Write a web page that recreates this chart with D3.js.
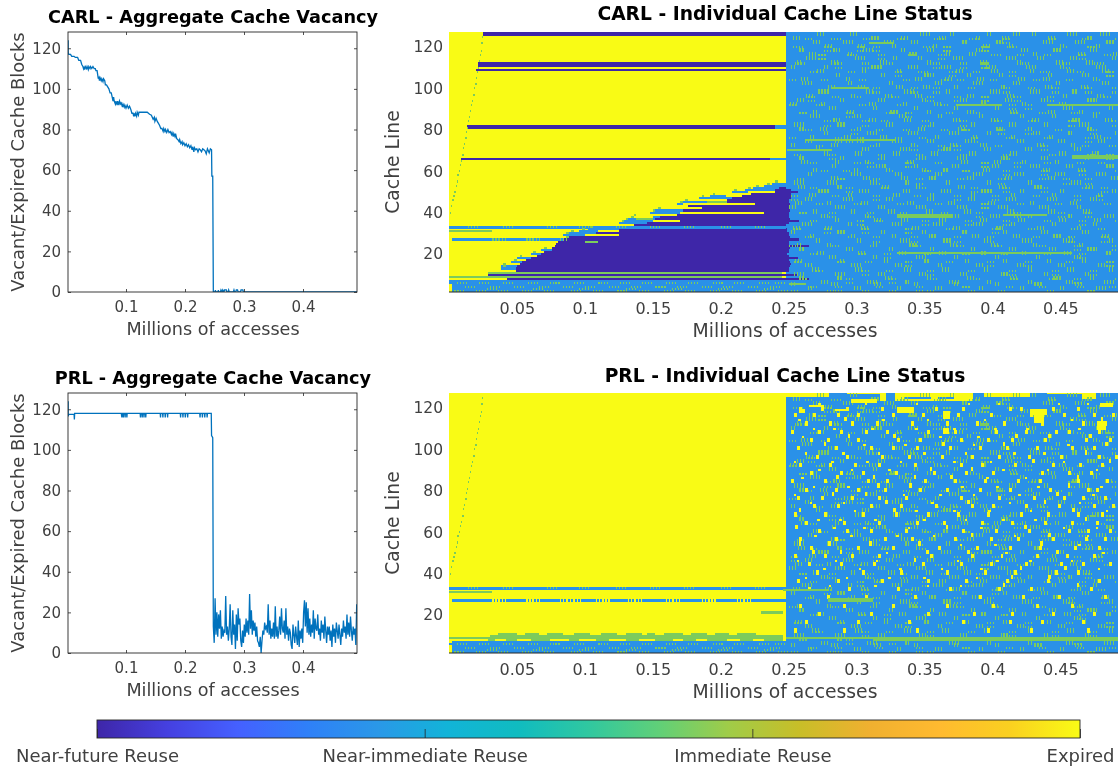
<!DOCTYPE html>
<html><head><meta charset="utf-8">
<script src="https://cdn.jsdelivr.net/npm/d3@7/dist/d3.min.js"></script>
<style>
html,body{margin:0;padding:0;background:#fff;overflow:hidden}
svg{display:block;filter:blur(0.4px)}
text{font-family:"DejaVu Sans",sans-serif}
</style></head><body>
<script>
// ---------- text ----------
const cbLabels=["Near-future Reuse","Near-immediate Reuse","Immediate Reuse","Expired"];
const lineXTicks=[100,200,300,400], lineXLabels=["0.1","0.2","0.3","0.4"];
const lineYTicks=[0,20,40,60,80,100,120];
const heatXTicks=[50,100,150,200,250,300,350,400,450];
const heatXLabels=["0.05","0.1","0.15","0.2","0.25","0.3","0.35","0.4","0.45"];
const heatYTicks=[20,40,60,80,100,120];
// ---------- colours ----------
const stateColor={dark:"#3E26A8",blue:"#2A91E8",green:"#7CCB5C",yellow:"#F9FB15"};
const cmapStops=["#3E26A8","#4540E0","#4560FF","#2F80F8","#2A98E8","#12B4D8","#10BCC0","#30C8A0","#60D078","#A0CC48","#C8BE28","#F0B030","#FFBA30","#FAD020","#F9FB15"];
// ---------- aggregate curves: [thousand accesses, blocks] ----------
const carlCurve=[[2,124],[2,118],[3,117],[6,117],[8,116],[12,116],[14,115.5],[18,115.5],[20,114],[23,114],[25,112],[27,111],[28,110],[29,111],[30,109.5],[31,111],[33,110],[34,111],[36,109.5],[37,111],[39,110],[40,111],[42,110],[44,111],[46,110],[48,110],[49,109],[51,109],[52,107],[53,105],[54,106],[55,104],[56,105.5],[58,104],[59,105],[61,103.5],[62,105],[64,104],[65,102],[67,102],[69,101],[71,100],[73,98],[75,98],[77,95.5],[78,94],[79,96],[80,94],[82,92.5],[83,94],[85,92],[86,94],[88,92],[89,94],[91,92.5],[92,93],[94,91],[95,92.5],[97,91],[98,92],[100,90.5],[102,92],[104,90.5],[106,91.5],[108,90],[110,88],[112,88],[113,86.5],[114,88],[115,86.5],[116,88],[118,86.5],[119,88.5],[121,87],[122,88.5],[126,88.5],[130,88.5],[136,88.5],[140,87.5],[143,87],[146,85],[148,86],[149,84],[151,85.5],[153,84],[155,83],[157,82],[159,80.5],[161,80.5],[163,79],[164,80.5],[166,79],[167,80],[169,78.5],[171,80],[173,78.5],[175,79],[177,77.5],[178,78.5],[180,76.5],[181,78],[183,76.5],[184,78],[186,75.5],[188,75],[190,74],[191,75],[193,73],[195,74],[196,72.5],[198,73.5],[200,72],[202,73],[204,71.5],[206,72.5],[208,71],[210,72],[212,70],[213,71.5],[215,69],[216,71],[218,70],[220,70.5],[222,69],[224,70.5],[226,70],[228,69],[230,70.5],[232,70],[234,69.5],[236,68],[238,70.5],[241,68.5],[243,70.5],[245,70],[245.5,57],[247,57],[248,0],[251,0],[251.5,1],[252,0],[256,0],[256.5,1],[257,0],[260,0],[261,1],[263,0],[264,1],[266,0],[267,1],[270,1],[271,0],[273,0],[274,1],[275,0],[282,0],[283,1],[284,0],[286,0],[287,1],[289,1],[290,0],[294,0],[295,1],[298,1],[299,0],[491.5,0]];
const prlCurve=[[2,124],[2,116.5],[3,117.5],[12,117.5],[12.5,115],[13,118],[92,118],[93,116],[93.5,118],[95,118],[95.5,116],[96,118],[98,118],[98.5,116],[99,118],[101,118],[101.5,116],[102,118],[124,118],[124.5,116],[125,118],[127,118],[127.5,116],[128,118],[130,118],[130.5,116],[131,118],[133,118],[133.5,116],[134,118],[158,118],[158.5,116],[159,118],[162,118],[162.5,116],[163,118],[166,118],[166.5,116],[167,118],[170,118],[170.5,116],[171,118],[192,118],[192.5,116],[193,118],[196,118],[196.5,116],[197,118],[200,118],[200.5,116],[201,118],[204,118],[204.5,116],[205,118],[225,118],[225.5,116],[226,118],[229,118],[229.5,116],[230,118],[233,118],[233.5,116],[234,118],[237,118],[237.5,116],[238,118],[244.5,118],[245,107],[247,106]];
const prlNoiseStart=248, prlNoiseStep=1.5;
const prlNoise=[13,5,27,9,20,8,19,12,21,7,
13,8,11,10,28,9,13,6,12,24,
8,4,21,9,14,2,19,6,22,14,
17,6,3,11,5,14,8,17,10,16,
9,29,12,21,9,16,11,15,8,13,
6,5,3,8,0,6,11,9,15,12,
13,10,24,9,16,7,12,8,15,7,
23,8,13,7,11,18,9,22,12,10,
16,7,22,9,13,6,12,10,4,2,
14,9,5,13,8,4,16,3,11,7,
12,5,20,26,13,25,10,22,9,17,
8,14,10,21,7,17,12,11,19,9,
12,6,16,10,14,7,18,11,5,13,
9,13,6,11,3,14,8,12,5,15,
11,7,14,9,4,12,8,16,10,13,
7,19,9,15,8,18,11,6,13,9,
12,4,24];
// ---------- heat-map content, [cache line, from, to, state] in thousand accesses ----------
const diagDots=[[0.8,40],[1.5,43],[2.5,46],[3.2,48],[4,50],[4.8,53],[5.6,55],[6.2,58],[7,60],[8,63],[8.8,65],[9.8,68],[10.5,71],[11.2,73],[12,76],[12.6,79],[13.4,81],[14,84],[14.8,86],[15.6,89],[16.4,92],[17,94],[18,97],[18.6,100],[19.4,102],[20,105],[20.8,108],[21.4,110],[22,113],[22.6,116],[23.2,118],[23.8,122],[24.4,125]];
const carlBands=[
[127,25,248,"dark"],[126,25,248,"dark"],[112,21,248,"dark"],[111,21,248,"dark"],[108.7,20,248,"dark"],
[82,13,240,"dark"],[81,13,240,"dark"],[82,240,248,"blue"],[81,240,248,"blue"],[66,9,236,"dark"],[66,236,248,"blue"],
[31,0,32,"green"],[27,2,84,"blue"],
[11,29,245,"green"],[10,29,256,"dark"],[9,0,245,"green"],[8,43,265,"dark"],[8,0,20,"yellow"],[7,0,248,"blue"],[6,0,248,"blue"],[5,2,248,"blue"],[4,2,248,"blue"],[3,2,248,"blue"],[2,2,248,"blue"],[1,2,248,"blue"]];
// wedge rows [cache line, first dark, last dark]
const carlWedge=[[12,49,250],[13,49,250],[14,50,251],[15,52,252],[16,54,251],[17,57,250],[18,60,257],[19,65,250],[20,68,249],[21,70,250],[22,76,250],[23,76,251],[24,78,265],[25,79,250],[26,80,250],[27,84,258],[28,88,251],[29,100,250],[30,108,250],[31,118,249],[32,125,249],[33,125,248],[34,136,248],[35,146,250],[36,150,258],[37,152,251],[38,155,250],[39,168,250],[40,170,250],[41,172,251],[42,174,251],[43,176,250],[44,188,251],[45,195,250],[46,205,250],[47,208,252],[48,212,252],[49,222,252],[50,233,257],[51,240,252],[52,243,248]];
const carlFringe=[[13,38,50],[14,38,50],[16,46,54],[18,50,60],[20,60,68],[22,68,76],[27,84,84],[29,84,100],[30,88,108],[31,96,118],[32,102,125],[35,125,146],[36,128,150],[37,132,152],[38,134,155],[40,148,170],[41,152,172],[44,168,188],[45,172,195],[47,184,208],[48,192,212],[50,208,233],[51,218,240],[52,224,243],[53,232,248],[54,238,248]];
const carlBlueBand=[32.8,0,248];
const carlStripes=[[40,170,232,"yellow"],[44,172,225,"yellow"],[42,174,186,"yellow"],[36,150,170,"yellow"],[37,138,150,"green"],[29,100,125,"yellow"],[31,110,125,"yellow"],[26,100,110,"green"],[48,204,216,"yellow"],[50,220,240,"yellow"],[45,190,205,"green"],[38,130,150,"yellow"]];
const carlGreenLines=[[122,309,327,1],[100,282,309,1],[92,373,407,1],[92,440,493,1],[75,262,328,1],[70,249,282,1],[66.5,459,493,2],[38,330,371,2],[39,408,440,1],[20.5,330,459,1],[5.5,250,263,1]];
const prlBands=[[32.8,0,248,"blue",1.4],[31,0,32,"green",1],[27,2,248,"blue",1.3],[21,230,246,"green",1.3],[11,30,246,"green",1],[10,30,246,"green",1],[9,0,246,"green",1],[8,0,246,"green",1],[7,2,248,"blue",1],[6,0,248,"blue",1],[5,2,248,"blue",1],[4,2,248,"blue",1],[3,2,248,"blue",1],[2,2,248,"blue",1],[1,2,248,"blue",1]];
const prlBandNotches=[[11,30,36],[11,50,56],[11,66,72],[11,84,92],[11,104,112],[11,124,130],[11,142,146],[11,152,158],[11,172,178],[11,190,196],[11,206,212],[11,226,246]];
const prlLeftYellow=[[8,0,29],[8,34,42],[8,50,60],[8,74,88],[8,96,108],[8,118,130],[8,140,152],[8,165,172],[8,182,190],[8,205,214],[8,224,232]];
const prlGreenLines=[[9,248,312,1],[8,312,493,2],[27,279,312,1.5],[32,246,279,1]];
const prlTopCaps=[[244,280,125],[293,317,126],[317,322,123],[328,386,123],[394,428,125],[440,466,126],[466,476,124],[483,490,127]];
const prlTopBlue=[[125,335,355],[125,360,372],[126,300,308],[126,288,293],[125,400,408],[124,248,262],[124,268,276]];
const prlTopBlobs=[[265,276,121,1],[330,342,118,3],[428,440,117,3],[431,438,113,4],[364,369,115,4],[477,484,110,4],[479,489,121,2],[296,315,123,2],[364,368,108,3],[258,262,118,2],[284,292,119,1]];
// column groups of vertical bars: first item is the cache line
const specBars=[
[126,271,295,347,369,396,415,429,455,479],[122,268,290,320,340,378,403,437,461,484],[118,258,283,305,333,352,388,421,445,472],
[114,263,299,327,345,371,410,433,457,488],[110,252,276,311,338,362,395,425,450,476],[106,285,318,350,381,405,441,466],
[102,260,294,324,358,386,415,447,481],[98,272,307,335,366,398,428,459],[94,256,288,316,348,376,409,436,470],
[90,280,312,342,372,402,452,486],[86,266,298,331,360,390,420,444,474],[82,254,286,322,354,384,412,438,464],
[78,276,308,338,368,396,430,456,490],[74,262,292,326,352,380,418,448,478],[70,270,304,332,364,394,424,460],
[66,258,288,318,346,374,406,436,468],[62,282,314,342,370,400,428,454,484],[58,264,296,328,358,386,416,446,476],
[54,254,278,310,336,366,396,426,458],[50,272,302,334,362,392,420,450,488],[46,262,290,322,352,382,410,440,472],
[42,250,284,316,344,374,404,434,462],[38,274,306,340,368,398,426,456,482],[34,260,294,326,356,386,414,444,474],
[30,252,286,318,348,378,408,436,466],[26,270,300,332,364,394,422,452,486],[22,258,292,324,354,384,412,442,470],
[18,280,312,344,372,402,432,460],[14,262,296,328,360,388,418,448,478],[10,254,284,316,346,376,406,438,468],
[6,274,308,336,368,396,426,454,482],[3,264,298,330,358,390,420,450,476]];
const specBars2=[
[124,253,311,333,361,388,407,441,470],[120,277,301,326,356,393,412,450,476],[116,265,294,339,366,383,430,463,489],
[112,256,281,317,352,391,418,447,469],[108,271,304,330,373,399,428,455,481],[104,259,292,343,365,389,419,437,474],
[100,279,301,329,349,372,406,439,465],[96,263,296,321,343,381,411,452,477],[92,251,274,309,334,357,392,422,449],
[88,268,293,325,352,381,413,441,464],[84,283,309,335,371,399,429,459,483],[80,258,273,300,345,375,403,426,470],
[76,266,291,317,358,386,414,442,475],[72,252,281,314,340,369,391,433,458],[68,276,299,327,355,383,413,449,473],
[64,259,284,306,337,377,401,422,446],[60,268,298,322,348,364,393,437,463],[56,281,305,333,353,381,409,441,487],
[52,257,286,319,344,375,405,431,469],[48,265,294,327,354,384,414,444,478],[44,255,278,303,337,367,397,428,457],
[40,268,296,323,351,379,411,441,467],[36,284,313,333,361,391,419,449,475],[32,253,277,303,341,371,403,433,462],
[28,266,296,326,353,385,415,445,481],[24,256,278,312,339,369,399,430,464],[20,271,301,331,361,392,422,453,484],
[16,255,288,320,350,380,408,440,466],[12,267,299,335,363,394,426,455,486],[8,258,286,321,352,381,413,445,472],
[5,252,281,313,342,372,402,431,461]];
// rows of short horizontal dashes
const specDots=[
[124,262,281,305,330,357,383,408,442,466,490],[120,253,276,300,312,349,364,392,411,450,470],[116,272,293,316,338,360,399,418,438,464,482],
[112,255,284,304,322,356,376,392,422,452,475],[108,266,294,328,345,368,386,412,435,462,484],[104,250,274,302,334,362,374,398,430,454,474],
[100,312,340,356,382,408,426,444,468,488],[96,264,282,298,326,352,372,392,416,440,482],[92,250,270,302,330,362,412,424,462,478],
[88,258,292,322,336,366,386,414,434,458,474],[84,276,304,318,348,376,402,426,456,488],[80,262,296,314,334,362,378,404,424,446,472],
[76,250,284,300,328,346,384,410,438,468,482],[72,270,310,340,360,372,402,436,466,486],[68,254,280,316,344,376,408,442,470,484],
[64,266,298,308,336,358,392,416,438,462,478],[60,274,290,322,350,378,408,436,464,490],[56,256,286,312,344,374,404,434,452,468],
[52,266,292,318,346,384,408,436,466,480],[48,252,282,312,342,372,400,430,460,476],[44,270,298,330,358,392,418,446,482],
[40,258,280,308,332,362,388,416,448,468],[36,266,300,314,348,380,408,438,464,490],[32,254,276,304,336,366,400,426,458,478],
[28,262,294,312,340,372,396,430,456,480],[24,250,282,310,342,374,402,434,460,488],[20,266,302,320,350,378,406,438,464],
[16,254,286,306,336,366,396,424,454,484],[12,270,304,322,352,382,412,444,472],[8,258,292,324,354,386,414,442,460,490],
[4,266,284,314,344,378,410,434,462,486],[2,252,278,304,324,352,382,404,440,470]];
const leftDots=[[6,6,22,40,58,74,92,110,126,142,160,176,194,210,228,240],[4,12,30,48,66,84,100,118,134,152,168,186,202,220,236],[2,4,20,36,54,70,90,106,124,140,158,174,192,208,226,242],[3,28,62,96,130,164,198,232]];
const band32Clusters=[14,40,72,96,123,148,173,200,225];
const band26Clusters=[32,37,57,62,82,87,92,108,113,132,137,160,165,186,191,212,217];
// PRL expired blobs: first item is the cache line
const prlYellow=[
[119,258,274,292,318,334,358,378,412,420,444,462],[116,254,268,286,300,326,348,374,398,428,452,474,488],
[112,262,280,296,314,340,366,388,408,436,466,482],[108,252,272,288,306,322,352,372,402,424,446,456,478],
[104,266,278,300,330,346,376,396,414,438,468,486],[100,256,284,310,326,344,368,390,410,432,458,474],
[96,270,292,318,338,362,384,404,426,450,478,490],[92,258,280,298,316,342,376,392,416,444,464,480],
[88,266,288,304,328,356,380,400,436,456,472],[84,252,276,308,322,350,372,394,418,434,462,484],
[80,262,284,300,320,346,366,390,412,442,470,476],[76,256,274,296,316,336,376,404,430,452,466,482],
[72,268,286,310,332,358,384,400,424,448,474,488],[68,254,276,304,328,352,374,396,420,440,462,480],
[64,262,290,316,344,364,392,414,438,458,476],[60,272,292,310,336,378,402,426,456,470,486],
[56,258,284,320,340,372,398,418,444,468,482],[52,266,300,326,360,388,412,434,460,478],
[48,254,276,296,316,354,384,406,432,454,474],[44,264,288,312,348,376,398,424,450,466,486],
[40,270,304,332,366,394,416,446,462],[36,256,286,318,352,380,410,440,478],
[32,264,294,330,368,404,428,472],[28,278,306,342,390,422,448,482],[24,258,290,326,366,400,432,458],
[20,272,310,352,386,414,444,474],[16,262,300,338,378,412,436,466],[12,254,290,344,396,428,470]];
const prlYellow2=[
[122,272,306,344,382,404,448,470],[114,257,291,319,352,394,432,458,480],[110,268,283,311,343,371,401,425,463],
[106,260,294,327,361,389,417,441,471],[102,276,305,335,363,386,408,455,483],[98,262,289,316,349,380,415,437,468],
[94,254,281,307,332,371,398,429,452,486],[90,272,296,323,354,384,407,440,476],[86,259,285,312,342,369,395,424,462],
[82,268,293,315,339,377,403,433,456,479],[78,254,282,306,334,361,386,419,447,473],[74,266,290,321,355,381,412,438,464],
[70,258,298,327,343,371,397,428,459,484],[66,271,287,313,349,380,407,431,468],[62,255,283,305,338,366,391,423,452,476],
[58,269,295,329,356,384,416,441,470],[54,258,279,309,345,376,401,435,463],[50,267,288,322,351,381,409,447,481],
[46,256,284,314,342,374,403,427,458],[42,275,302,331,362,391,420,453,478],[38,262,292,323,349,388,414,441],[34,280,313,352,376,408,462]];
// ---------- drawing ----------
const W=1118,H=767;
const svg=d3.select("body").append("svg").attr("width",W).attr("height",H).attr("viewBox",`0 0 ${W} ${H}`);
const defs=svg.append("defs");
const ink="#404040";

function styleAxis(g,fs){
  g.selectAll("text").attr("fill",ink).style("font-size",fs+"px");
  g.selectAll(".tick line").attr("stroke","#262626").attr("stroke-width",0.8);
  g.select(".domain").remove();
}
function linePanel(top,title,series,id,titleGap){
  const L=68,R=357,T=top,B=top+260;
  const x=d3.scaleLinear().domain([1.7,491.5]).range([L,R]);
  const y=d3.scaleLinear().domain([0,128]).range([B,T]);
  defs.append("clipPath").attr("id",id).append("rect").attr("x",L).attr("y",T).attr("width",R-L).attr("height",B-T);
  series.forEach(s=>{
    svg.append("path").datum(s).attr("clip-path",`url(#${id})`).attr("fill","none").attr("stroke","#0072BD").attr("stroke-width",1.3)
      .attr("d",d3.line().x(d=>x(d[0])).y(d=>y(d[1])));
  });
  svg.append("rect").attr("x",L).attr("y",T).attr("width",R-L).attr("height",B-T).attr("fill","none").attr("stroke","#262626").attr("stroke-width",0.9);
  const fmt=d=>lineXLabels[lineXTicks.indexOf(d)];
  svg.append("g").attr("transform",`translate(0,${B})`).call(d3.axisBottom(x).tickValues(lineXTicks).tickFormat(fmt).tickSizeInner(-3).tickSizeOuter(0).tickPadding(9)).call(styleAxis,15);
  svg.append("g").attr("transform",`translate(0,${T})`).call(d3.axisTop(x).tickValues(lineXTicks).tickFormat("").tickSizeInner(-3).tickSizeOuter(0)).call(styleAxis,15);
  svg.append("g").attr("transform",`translate(${L},0)`).call(d3.axisLeft(y).tickValues(lineYTicks).tickSizeInner(-3).tickSizeOuter(0).tickPadding(7)).call(styleAxis,15);
  svg.append("g").attr("transform",`translate(${R},0)`).call(d3.axisRight(y).tickValues(lineYTicks).tickFormat("").tickSizeInner(-3).tickSizeOuter(0)).call(styleAxis,15);
  svg.append("text").attr("x",213).attr("y",top-titleGap).attr("text-anchor","middle").attr("font-weight","bold").attr("fill","#000").style("font-size","17.7px").text(title);
  svg.append("text").attr("x",213).attr("y",B+43).attr("text-anchor","middle").attr("fill",ink).style("font-size","17.6px").text("Millions of accesses");
  svg.append("text").attr("transform",`translate(24,${(T+B)/2}) rotate(-90)`).attr("text-anchor","middle").attr("fill",ink).style("font-size","17.9px").text("Vacant/Expired Cache Blocks");
}
function heatPanel(top,title,draw,id,titleGap){
  const L=449,R=1118,T=top,B=top+260;
  const x=d3.scaleLinear().domain([0,492.5]).range([L,R]);
  const y=d3.scaleLinear().domain([1.64,127.2]).range([B,T]);
  defs.append("clipPath").attr("id",id).append("rect").attr("x",L).attr("y",T).attr("width",R-L).attr("height",B-T);
  const g=svg.append("g").attr("clip-path",`url(#${id})`).attr("shape-rendering","crispEdges");
  const put=(line,x0,x1,state,span=1)=>{
    const yTop=y(line+0.5+(span-1)), yBot=y(line-0.5);
    g.append("rect").attr("x",x(x0)).attr("width",Math.max(0.6,x(x1)-x(x0)))
     .attr("y",yTop).attr("height",yBot-yTop).attr("fill",stateColor[state]);
  };
  g.append("rect").attr("x",x(0)).attr("width",x(248)-x(0)).attr("y",T).attr("height",B-T).attr("fill",stateColor.yellow);
  g.append("rect").attr("x",x(248)).attr("width",x(492.5)-x(248)).attr("y",T).attr("height",B-T).attr("fill",stateColor.blue);
  draw(put);
  svg.append("line").attr("x1",L).attr("x2",R).attr("y1",B).attr("y2",B).attr("stroke","#262626").attr("stroke-width",1);
  const fmt=d=>heatXLabels[heatXTicks.indexOf(d)];
  svg.append("g").attr("transform",`translate(0,${B})`).call(d3.axisBottom(x).tickValues(heatXTicks).tickFormat(fmt).tickSizeInner(0).tickSizeOuter(0).tickPadding(11)).call(styleAxis,16);
  svg.append("g").attr("transform",`translate(${L},0)`).call(d3.axisLeft(y).tickValues(heatYTicks).tickSizeInner(0).tickSizeOuter(0).tickPadding(6)).call(styleAxis,15.5);
  svg.append("text").attr("x",785).attr("y",top-titleGap).attr("text-anchor","middle").attr("font-weight","bold").attr("fill","#000").style("font-size","18.7px").text(title);
  svg.append("text").attr("x",785).attr("y",B+45).attr("text-anchor","middle").attr("fill",ink).style("font-size","18.8px").text("Millions of accesses");
  svg.append("text").attr("transform",`translate(399,${(T+B)/2}) rotate(-90)`).attr("text-anchor","middle").attr("fill",ink).style("font-size","18.8px").text("Cache Line");
}
function barsGlyph(put,line,x0,n){for(let i=0;i<n;i++){put(line,x0+i*2.2,x0+i*2.2+0.8,"green",2);}}
function dotsGlyph(put,line,x0,n,c="green"){for(let i=0;i<n;i++){put(line,x0+i*2.2,x0+i*2.2+0.8,c);}}
function drawSpecks(put){
  specBars.forEach(r=>r.slice(1).forEach(v=>barsGlyph(put,r[0],v,2+(v%3))));
  specBars2.forEach(r=>r.slice(1).forEach(v=>barsGlyph(put,r[0],v,2+(v%2))));
  specDots.forEach(r=>r.slice(1).forEach(v=>{dotsGlyph(put,r[0],v,3+(v%2));if(v%4==0)dotsGlyph(put,r[0]-2,v,3);}));
}
heatPanel(32,"CARL - Individual Cache Line Status",put=>{
  carlBands.forEach(b=>put(b[0],b[1],b[2],b[3]));
  carlFringe.forEach(b=>put(b[0],b[1],b[2],"blue"));
  carlWedge.forEach(b=>put(b[0],b[1],b[2],"dark"));
  put(carlBlueBand[0],carlBlueBand[1],carlBlueBand[2],"blue",1.4);
  carlStripes.forEach(b=>put(b[0],b[1],b[2],b[3]));
  diagDots.forEach(d=>put(d[1],d[0],d[0]+0.9,"green"));
  drawSpecks(put);
  carlGreenLines.forEach(b=>put(b[0],b[1],b[2],"green",b[3]));
  leftDots.forEach(r=>r.slice(1).forEach(v=>dotsGlyph(put,r[0],v,4)));
  band32Clusters.forEach(v=>dotsGlyph(put,33,v,4));
  band26Clusters.filter(v=>v<84).forEach(v=>dotsGlyph(put,27,v,3,"green"));
  carlFringe.forEach(b=>put(b[0]+1,b[1]+2,b[1]+4,"green"));
},"clipH1",12);
heatPanel(393,"PRL - Individual Cache Line Status",put=>{
  prlTopCaps.forEach(c=>put(c[2]+1,c[0],c[1],"yellow",130-c[2]));
  prlTopBlue.forEach(c=>put(c[0],c[1],c[2],"blue"));
  prlBands.forEach(b=>put(b[0],b[1],b[2],b[3],b[4]));
  prlBandNotches.forEach(b=>put(b[0],b[1],b[2],"yellow"));
  prlLeftYellow.forEach(b=>put(b[0],b[1],b[2],"yellow"));
  diagDots.forEach(d=>put(d[1],d[0],d[0]+0.9,"green"));
  drawSpecks(put);
  prlTopBlobs.forEach(b=>put(b[2],b[0],b[1],"yellow",b[3]));
  prlYellow.forEach(r=>r.slice(1).forEach(v=>put(r[0],v,v+2.2,"yellow",2)));
  prlYellow2.forEach(r=>r.slice(1).forEach(v=>put(r[0],v,v+1.5+(v%2)*0.7,"yellow",1+(v%3==0?1:0))));
  prlGreenLines.forEach(b=>put(b[0],b[1],b[2],"green",b[3]));
  leftDots.forEach(r=>r.slice(1).forEach(v=>dotsGlyph(put,r[0],v,4)));
  band32Clusters.forEach(v=>dotsGlyph(put,33,v,4));
  band26Clusters.forEach(v=>dotsGlyph(put,27,v,3,"yellow"));
},"clipH2",11);
linePanel(32,"CARL - Aggregate Cache Vacancy",[carlCurve],"clipL1",9);
const prlFull=prlCurve.concat(prlNoise.map((v,i)=>[prlNoiseStart+i*prlNoiseStep,v]));
linePanel(393,"PRL - Aggregate Cache Vacancy",[prlFull],"clipL2",9);
// ---------- colour bar ----------
const cb=d3.scaleLinear().domain([0,3]).range([97,1080]);
const grad=defs.append("linearGradient").attr("id","cmap");
cmapStops.forEach((c,i)=>grad.append("stop").attr("offset",i/(cmapStops.length-1)).attr("stop-color",c));
svg.append("rect").attr("x",cb(0)).attr("y",720).attr("width",cb(3)-cb(0)).attr("height",18).attr("fill","url(#cmap)").attr("stroke","#262626").attr("stroke-width",0.9);
const cbAxis=svg.append("g").attr("transform","translate(0,738)").call(d3.axisBottom(cb).tickValues([0,1,2,3]).tickFormat(d=>cbLabels[d]).tickSizeInner(-9).tickSizeOuter(0).tickPadding(11));
styleAxis(cbAxis,18);
</script>
</body></html>
